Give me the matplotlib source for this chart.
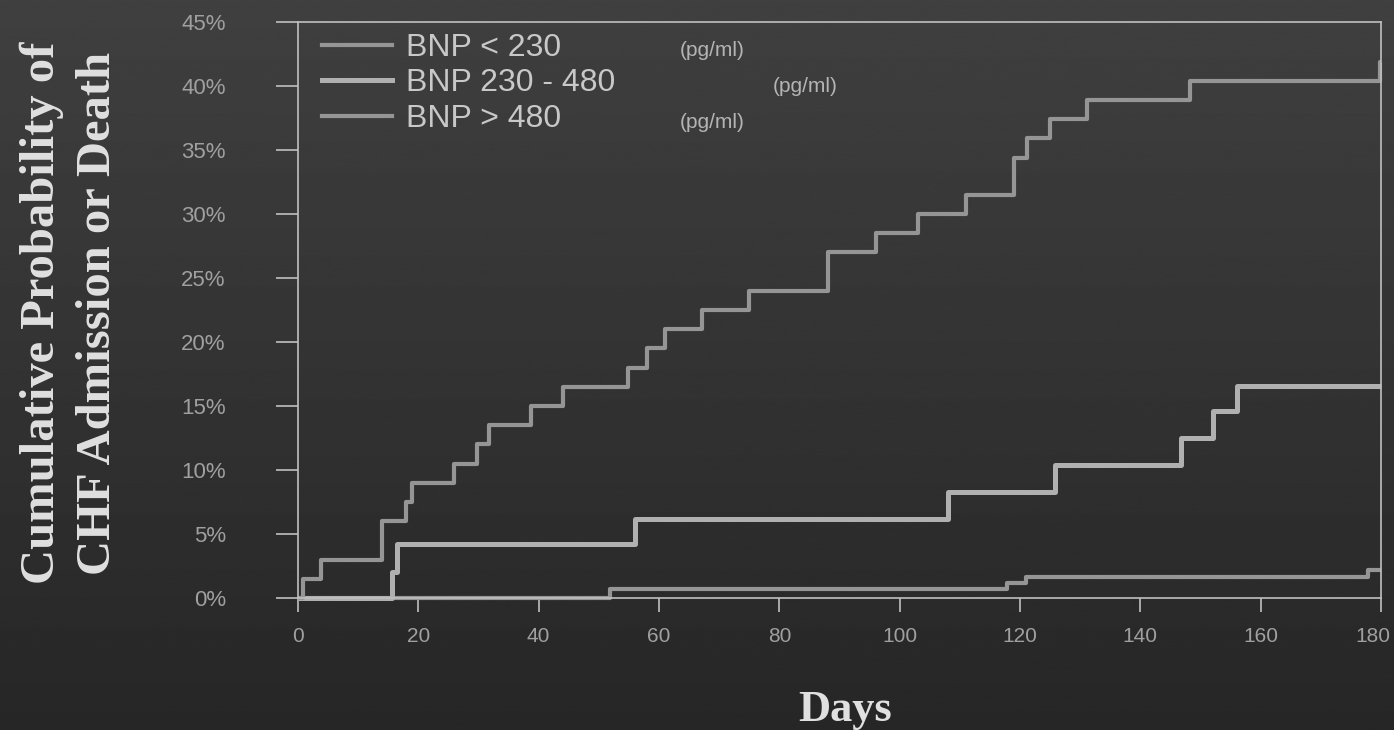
import numpy as np
import matplotlib
matplotlib.use("Agg")
import matplotlib.pyplot as plt
import matplotlib.transforms as mtransforms
from matplotlib.ticker import PercentFormatter
from matplotlib.lines import Line2D

# step curves (days, cumulative %)
high_days = [0, 0.8, 3.9, 13.9, 18.0, 18.9, 25.9, 29.7, 31.8, 38.8, 44.1, 54.9, 58.0,
             61.0, 67.1, 75.0, 88.1, 96.0, 103.1, 111.1, 119.0, 121.1, 125.0, 131.1,
             148.2, 179.8, 180]
high_vals = [0, 1.5, 3.0, 6.0, 7.5, 9.0, 10.5, 12.0, 13.5, 15.0, 16.5, 18.0, 19.5,
             21.0, 22.5, 24.0, 27.0, 28.5, 30.0, 31.5, 34.4, 35.9, 37.4, 38.9,
             40.4, 41.9, 41.9]

mid_days = [0, 15.6, 16.5, 56.0, 108.0, 125.8, 146.8, 152.0, 156.0, 180]
mid_vals = [0, 2.0, 4.2, 6.2, 8.3, 10.4, 12.5, 14.6, 16.6, 16.6]

low_days = [0, 51.8, 117.8, 121.0, 177.9, 180]
low_vals = [0, 0.7, 1.2, 1.65, 2.2, 2.2]

labels = ["BNP < 230", "BNP 230 - 480", "BNP > 480"]
unit = "(pg/ml)"

x_ticks = list(range(0, 181, 20))
y_ticks = list(range(0, 46, 5))

W, H = 1394, 730
fig = plt.figure(figsize=(W / 100, H / 100), dpi=100)

# background gradient, lighter at the top
bg = fig.add_axes([0, 0, 1, 1], zorder=-10)
grad = np.linspace(0.25, 0.15, 256).reshape(-1, 1)
bg.imshow(grad, aspect="auto", cmap="gray", vmin=0, vmax=1, extent=[0, 1, 0, 1])
bg.axis("off")

ax = fig.add_axes([298 / W, 1 - 598 / H, (1381 - 298) / W, (598 - 22) / H])
ax.set_facecolor("none")

line_col = "#959595"
mid_col = "#b0b0b0"
ax.step(low_days, low_vals, where="post", color=line_col, lw=3.0, solid_capstyle="butt", clip_on=False)
ax.step(mid_days, mid_vals, where="post", color=mid_col, lw=3.6, solid_capstyle="butt", clip_on=False)
ax.step(high_days, high_vals, where="post", color=line_col, lw=3.0, solid_capstyle="butt", clip_on=False)

ax.set_xlim(0, 180)
ax.set_ylim(0, 45)
ax.set_xticks(x_ticks)
ax.set_yticks(y_ticks)
ax.yaxis.set_major_formatter(PercentFormatter(decimals=0))

spine_col = "#c0c0c0"
for s in ax.spines.values():
    s.set_color(spine_col)
    s.set_linewidth(1.2)

tick_col = "#a0a0a0"
ax.tick_params(axis="y", direction="out", length=16, width=1.2, color=spine_col,
               pad=36, labelsize=16, labelcolor=tick_col)
ax.tick_params(axis="x", direction="out", length=10, width=1.2, color=spine_col,
               pad=11, labelsize=15, labelcolor=tick_col)
for t in ax.get_xticklabels() + ax.get_yticklabels():
    t.set_family("Liberation Sans")

# nudge the last day label so it stays inside the picture
last = ax.xaxis.get_major_ticks()[-1].label1
last.set_transform(last.get_transform() +
                   mtransforms.ScaledTranslation(-0.08, 0, fig.dpi_scale_trans))

# legend
handles = [Line2D([], [], color=line_col, lw=3.0),
           Line2D([], [], color=mid_col, lw=3.6),
           Line2D([], [], color=line_col, lw=3.0)]
leg = ax.legend(handles, labels, loc="upper left", bbox_to_anchor=(322 / W, 1 - 33 / H),
                bbox_transform=fig.transFigure, frameon=False, borderpad=0,
                borderaxespad=0, handlelength=2.2, handletextpad=0.42, labelspacing=0.17,
                prop={"family": "Liberation Sans", "size": 23})
for t in leg.get_texts():
    t.set_color("#c8c8c8")

for px, py in [(680, 50), (773, 87), (680, 122)]:
    fig.text(px / W, 1 - py / H, unit, color="#b4b4b4", fontsize=15,
             family="Liberation Sans", ha="left", va="center")

# axis titles
fig.text(70 / W, 1 - 313 / H, "Cumulative Probability of\nCHF Admission or Death",
         rotation=90, ha="center", va="center", family="Liberation Serif",
         weight="bold", fontsize=35, color="#e0e0e0", linespacing=1.35)
fig.text(845 / W, 1 - 710 / H, "Days", ha="center", va="center",
         family="Liberation Serif", weight="bold", fontsize=32, color="#e0e0e0")

fig.savefig("out.png", dpi=100)
